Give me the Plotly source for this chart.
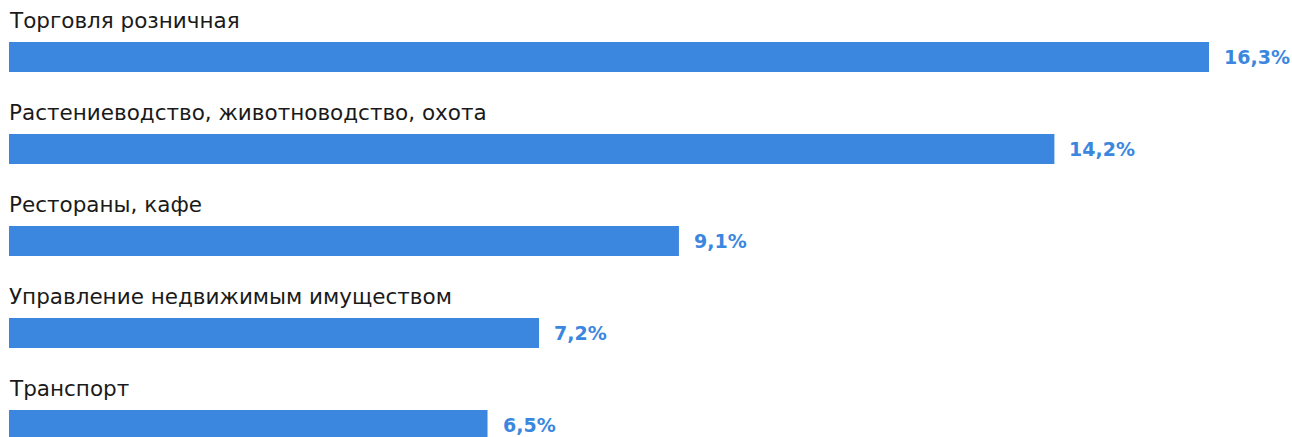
import plotly.graph_objects as go

categories = [
    "Торговля розничная",
    "Растениеводство, животноводство, охота",
    "Рестораны, кафе",
    "Управление недвижимым имуществом",
    "Транспорт",
]
values = [16.3, 14.2, 9.1, 7.2, 6.5]
value_labels = ["16,3%", "14,2%", "9,1%", "7,2%", "6,5%"]

BLUE = "#3b87e0"
W, H = 1292, 437
px_per_unit = 73.62
left = 9
xmax = (W - left) / px_per_unit

fig = go.Figure()
fig.add_trace(go.Bar(
    x=values, y=categories, orientation="h",
    marker=dict(color=BLUE, line=dict(width=0)),
    width=0.326, hoverinfo="skip",
))

ann = []
for c, v, t in zip(categories, values, value_labels):
    ann.append(dict(x=0, y=c, xref="x", yref="y", text=c, showarrow=False,
                    xanchor="left", yanchor="middle", yshift=37, xshift=-2,
                    font=dict(family="DejaVu Sans", size=21.5, color="#1a1a1a")))
    ann.append(dict(x=v, y=c, xref="x", yref="y", text="<b>" + t + "</b>", showarrow=False,
                    xanchor="left", yanchor="middle", xshift=13, yshift=0,
                    font=dict(family="DejaVu Sans", size=19, color=BLUE)))

top = -57 / 92
bottom = top + H / 92
fig.update_layout(
    width=W, height=H,
    margin=dict(l=left, r=0, t=0, b=0),
    paper_bgcolor="white", plot_bgcolor="white",
    showlegend=False,
    xaxis=dict(range=[0, xmax], visible=False, fixedrange=True),
    yaxis=dict(range=[bottom, top], visible=False, type="category",
               categoryorder="array", categoryarray=categories, fixedrange=True),
    annotations=ann,
)
fig.write_html("out.html",
               config={"displayModeBar": False, "staticPlot": True},
               post_script="document.body.style.margin='0';document.body.style.overflow='hidden';")
